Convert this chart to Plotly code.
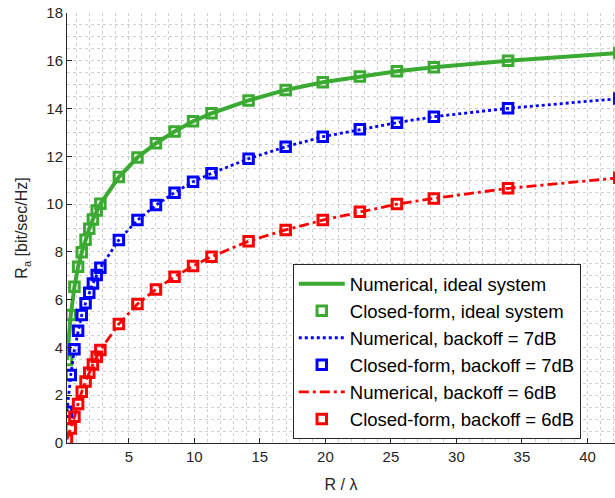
import plotly.graph_objects as go

# x positions (R / lambda)
x_vals = [0.28, 0.57, 0.85, 1.13, 1.41, 1.70, 1.98, 2.26, 2.55, 2.83,
          4.24, 5.66, 7.07, 8.49, 9.90, 11.31, 14.14, 16.97, 19.80, 22.63,
          25.46, 28.28, 33.94, 42.43]

ideal = [3.47, 5.36, 6.54, 7.38, 7.98, 8.51, 8.97, 9.36, 9.73, 10.01,
         11.13, 11.95, 12.55, 13.04, 13.47, 13.80, 14.34, 14.78, 15.10, 15.34,
         15.56, 15.73, 16.00, 16.33]

backoff7 = [1.31, 2.85, 3.92, 4.70, 5.36, 5.85, 6.29, 6.68, 7.03, 7.34,
            8.50, 9.33, 9.96, 10.48, 10.94, 11.29, 11.90, 12.40, 12.82, 13.13,
            13.41, 13.66, 14.01, 14.42]

backoff6 = [0.15, 0.61, 1.10, 1.63, 2.15, 2.57, 2.94, 3.29, 3.61, 3.89,
            4.98, 5.82, 6.43, 6.96, 7.41, 7.80, 8.45, 8.92, 9.33, 9.68,
            10.00, 10.24, 10.66, 11.10]

names = ["Numerical, ideal system", "Closed-form, ideal system",
         "Numerical, backoff = 7dB", "Closed-form, backoff = 7dB",
         "Numerical, backoff = 6dB", "Closed-form, backoff = 6dB"]

GREEN = "rgb(59,170,50)"
BLUE = "rgb(0,0,255)"
RED = "rgb(255,0,0)"

series = [
    (ideal, GREEN, "solid", 4),
    (backoff7, BLUE, "dot", 2.8),
    (backoff6, RED, "10px,4px,3px,4px", 2.8),
]

fig = go.Figure()
for i, (yv, col, dash, lw) in enumerate(series):
    fig.add_trace(go.Scatter(
        x=x_vals, y=yv, mode="lines", name=names[2 * i],
        line=dict(color=col, width=lw, dash=dash),
    ))
    fig.add_trace(go.Scatter(
        x=x_vals, y=yv, mode="markers", name=names[2 * i + 1],
        marker=dict(symbol="square-open", size=9.5, color=col,
                    line=dict(color=col, width=3)),
    ))

axis_col = "#262626"
grid_col = "#cfcfcf"
font_fam = "Liberation Sans, Arial, sans-serif"

fig.update_layout(
    width=615, height=498,
    margin=dict(l=67, r=0, t=13, b=55),
    paper_bgcolor="white", plot_bgcolor="white",
    font=dict(family=font_fam, size=15, color=axis_col),
    showlegend=True,
    legend=dict(
        x=0.412, y=0.416, xanchor="left", yanchor="top",
        bgcolor="white", bordercolor=axis_col, borderwidth=1,
        font=dict(family=font_fam, size=18.5, color="black"),
        tracegroupgap=0, itemwidth=46,
    ),
    xaxis=dict(
        range=[0.283, 42.1], tick0=0, dtick=5,
        showline=True, linecolor=axis_col, linewidth=1,
        ticks="inside", ticklen=5, tickcolor=axis_col,
        showgrid=True, gridcolor=grid_col, griddash="dot", gridwidth=1,
        minor=dict(dtick=1, tick0=0, showgrid=True, gridcolor=grid_col,
                   griddash="dot", gridwidth=1),
        zeroline=False, mirror=False,
        title=dict(text="R / λ", font=dict(size=16), standoff=14),
        tickfont=dict(size=15),
    ),
    yaxis=dict(
        range=[0, 18], tick0=0, dtick=2,
        showline=True, linecolor=axis_col, linewidth=1,
        ticks="inside", ticklen=5, tickcolor=axis_col,
        showgrid=True, gridcolor=grid_col, griddash="dot", gridwidth=1,
        minor=dict(dtick=0.5, tick0=0, showgrid=True, gridcolor=grid_col,
                   griddash="dot", gridwidth=1),
        zeroline=False, mirror=False,
        title=dict(text="R<sub>a</sub> [bit/sec/Hz]", font=dict(size=16), standoff=14),
        tickfont=dict(size=15),
    ),
)

fig.write_html("out.html",
               config={"displayModeBar": False},
               post_script="document.body.style.margin='0';document.body.style.overflow='hidden';")
